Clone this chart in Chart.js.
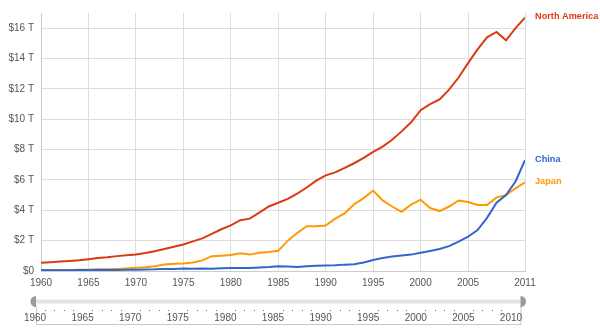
<!DOCTYPE html>
<html>
<head>
<meta charset="utf-8">
<script src="https://cdn.jsdelivr.net/npm/chart.js@4"></script>
<style>
  body { margin: 0; background: #fff; }
  #wrap { position: relative; width: 600px; height: 331px; }
  canvas { position: absolute; left: 0; }
</style>
</head>
<body>
<div id="wrap">
  <canvas id="myChart" width="600" height="331" style="top:0"></canvas>
  <canvas id="slider" width="600" height="43" style="top:288px"></canvas>
</div>
<script>
// GDP, trillions of US$
const years = [1960,1961,1962,1963,1964,1965,1966,1967,1968,1969,
  1970,1971,1972,1973,1974,1975,1976,1977,1978,1979,
  1980,1981,1982,1983,1984,1985,1986,1987,1988,1989,
  1990,1991,1992,1993,1994,1995,1996,1997,1998,1999,
  2000,2001,2002,2003,2004,2005,2006,2007,2008,2009,2010,2011];

const northAmerica = [0.55,0.58,0.62,0.66,0.71,0.78,0.85,0.90,0.98,1.04,
  1.08,1.18,1.30,1.45,1.60,1.75,1.95,2.15,2.45,2.75,
  3.00,3.35,3.45,3.85,4.25,4.50,4.75,5.10,5.50,5.95,
  6.30,6.50,6.80,7.10,7.45,7.85,8.20,8.65,9.20,9.80,
  10.60,11.00,11.30,11.95,12.75,13.70,14.60,15.40,15.75,15.20,16.00,16.70];

const china = [0.06,0.05,0.05,0.05,0.06,0.07,0.08,0.07,0.07,0.08,
  0.09,0.10,0.11,0.14,0.14,0.16,0.15,0.17,0.15,0.18,
  0.19,0.20,0.20,0.23,0.26,0.31,0.30,0.27,0.31,0.35,
  0.36,0.38,0.42,0.44,0.56,0.73,0.86,0.95,1.02,1.08,
  1.20,1.32,1.45,1.64,1.93,2.26,2.70,3.50,4.50,5.00,5.90,7.30];

const japan = [0.04,0.05,0.06,0.07,0.08,0.09,0.10,0.12,0.14,0.17,
  0.21,0.24,0.32,0.43,0.47,0.50,0.56,0.70,0.98,1.01,
  1.05,1.17,1.08,1.20,1.25,1.33,2.00,2.50,2.95,2.95,
  3.00,3.45,3.80,4.40,4.80,5.30,4.65,4.25,3.90,4.38,
  4.70,4.15,3.95,4.25,4.65,4.55,4.35,4.35,4.85,5.00,5.45,5.85];

const seriesNames = ['North America', 'China', 'Japan'];
const xTicks = [1960,1965,1970,1975,1980,1985,1990,1995,2000,2005,2011];
const yTicks = [0,2,4,6,8,10,12,14,16];
const sliderTicks = [1960,1965,1970,1975,1980,1985,1990,1995,2000,2005,2010];

const FONT = 'Arial, "Liberation Sans", sans-serif';
Chart.defaults.font.family = FONT;

function pts(vals) {
  return years.map((y, i) => ({x: y, y: vals[i]}));
}

// names written next to the end of each line
const endLabels = {
  id: 'endLabels',
  afterDatasetsDraw(chart) {
    const c = chart.ctx;
    c.save();
    c.font = 'bold 9.2px ' + FONT;
    c.textBaseline = 'middle';
    chart.data.datasets.forEach((ds, i) => {
      const els = chart.getDatasetMeta(i).data;
      const last = els[els.length - 1];
      c.fillStyle = ds.borderColor;
      c.fillText(ds.label, last.x + 10, last.y - 1);
    });
    c.restore();
  }
};

var ctx = document.getElementById('myChart');
let myChart = new Chart(ctx, {
  type: 'line',
  data: {
    datasets: [
      { label: seriesNames[0], data: pts(northAmerica), borderColor: '#dc3912', borderWidth: 2 },
      { label: seriesNames[1], data: pts(china), borderColor: '#3366cc', borderWidth: 2 },
      { label: seriesNames[2], data: pts(japan), borderColor: '#ff9900', borderWidth: 2 }
    ]
  },
  options: {
    responsive: false,
    animation: false,
    layout: { padding: { left: 0, right: 75, top: 11, bottom: 40 } },
    elements: { point: { radius: 0 }, line: { tension: 0 } },
    plugins: { legend: { display: false }, tooltip: { enabled: false } },
    scales: {
      x: {
        type: 'linear', min: 1960, max: 2011,
        afterBuildTicks: s => { s.ticks = xTicks.map(v => ({value: v})); },
        afterFit: s => { s.height = 20; },
        grid: { color: '#dddddd', drawTicks: false },
        border: { color: '#cccccc' },
        ticks: { padding: 6, color: '#555', font: { size: 10 }, callback: v => String(v) }
      },
      y: {
        min: 0, max: 17,
        afterBuildTicks: s => { s.ticks = yTicks.map(v => ({value: v})); },
        afterFit: s => { s.width = 41; },
        grid: { color: '#dddddd', drawTicks: false },
        border: { color: '#cccccc' },
        ticks: { padding: 7, color: '#555', font: { size: 10 },
          callback: v => v === 0 ? '$0' : '$' + v + ' T' }
      }
    }
  },
  plugins: [endLabels]
});

// time range control under the chart
const sliderDeco = {
  id: 'sliderDeco',
  beforeDraw(chart) {
    const c = chart.ctx;
    const a = chart.chartArea;
    const sx = chart.scales.x;
    const mid = (a.top + a.bottom) / 2;
    c.save();
    c.fillStyle = '#e4e4e4';
    c.fillRect(a.left, mid - 2, a.right - a.left, 4);
    c.strokeStyle = '#c8c8c8';
    c.lineWidth = 1;
    c.beginPath();
    c.moveTo(a.left + 1.5, a.bottom - 1);
    c.lineTo(a.left + 1.5, 36.5);
    c.lineTo(a.right + 0.5, 36.5);
    c.lineTo(a.right + 0.5, a.bottom - 1);
    c.stroke();
    c.fillStyle = '#666';
    years.forEach(y => {
      if (y % 5 !== 0 && y < 2011) c.fillRect(Math.round(sx.getPixelForValue(y)), a.bottom + 3, 1, 1);
    });
    c.fillStyle = '#9a9a9a';
    c.beginPath();
    c.arc(a.left + 1, mid, 5.5, Math.PI / 2, Math.PI * 1.5);
    c.closePath();
    c.fill();
    c.beginPath();
    c.arc(a.right, mid, 5.5, -Math.PI / 2, Math.PI / 2);
    c.closePath();
    c.fill();
    c.restore();
  }
};

let slider = new Chart(document.getElementById('slider'), {
  type: 'line',
  data: { datasets: [] },
  options: {
    responsive: false,
    animation: false,
    layout: { padding: { left: 35, right: 79.5, top: 8, bottom: 0 } },
    plugins: { legend: { display: false }, tooltip: { enabled: false } },
    scales: {
      x: {
        type: 'linear', min: 1960, max: 2011,
        afterBuildTicks: s => { s.ticks = sliderTicks.map(v => ({value: v})); },
        afterFit: s => { s.height = 24; },
        grid: { display: false, drawTicks: false },
        border: { display: false },
        ticks: { padding: 5, color: '#555', font: { size: 10 }, callback: v => String(v) }
      },
      y: { display: false, min: 0, max: 1 }
    }
  },
  plugins: [sliderDeco]
});
</script>
</body>
</html>
